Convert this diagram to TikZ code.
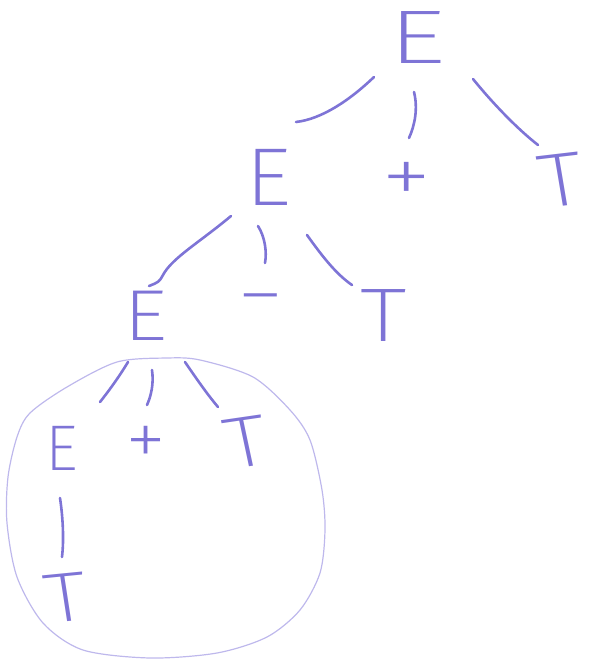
\documentclass[tikz,border=0pt]{standalone}
\usepackage{fontspec}
\newcommand\trythinfont[2]{\IfFontExistsTF{#1}{\setmainfont{#1}}{#2}}
\trythinfont{Fira Sans ExtraLight}{%
 \trythinfont{DejaVu Sans ExtraLight}{%
  \trythinfont{Fira Sans Thin}{%
   \trythinfont{Fira Sans Light}{%
    \trythinfont{Lato Light}{%
     \trythinfont{Open Sans Light}{\setmainfont{Liberation Sans}}}}}}}
\usetikzlibrary{calc}
\definecolor{ink}{RGB}{126,116,214}
\definecolor{ring}{RGB}{190,184,236}
\begin{document}
\begin{tikzpicture}[x=1pt,y=-1pt,
  sym/.style={text=ink, inner sep=0pt, font=\fontsize{76}{80}\selectfont},
  edge/.style={draw=ink, line width=2.6pt, line cap=round}]
\useasboundingbox (0,0) rectangle (592,662);
% symbols
\node[sym, xscale=1.5] (e1) at (417,38) {E};
\node[sym, xscale=1.35, yscale=1.1] (p1) at (407,183) {+};
\node[sym, xscale=1.2, rotate=8] (t1) at (561,180) {T};
\node[sym, xscale=1.2, yscale=1.08] (e2) at (268,177) {E};
\node[sym, anchor=base, xscale=1.25] (m2) at (261,320) {−};
\node[sym, xscale=1.25] (t2) at (384,316) {T};
\node[sym, xscale=1.15, yscale=0.95] (e3) at (146,316) {E};
\node[sym, xscale=1.1, yscale=1.05] (p3) at (146,446) {+};
\node[sym, xscale=1.15, yscale=0.95, rotate=10] (t3) at (246,442) {T};
\node[sym, scale=0.85] (e4) at (62,448) {E};
\node[sym, xscale=1.15, yscale=0.92, rotate=7] (t4) at (66,598) {T};
% connectors
\draw[edge] ($(e1)+(-43,39)$) .. controls ($(e1)+(-67,62)$) and ($(e1)+(-95,81)$) .. ($(e2)+(28,-55)$);
\draw[edge] ($(e1)+(-3,54)$) .. controls ($(e1)+(1,70)$) and ($(e1)+(-2,87)$) .. ($(p1)+(2,-45)$);
\draw[edge] ($(e1)+(56,41)$) .. controls ($(e1)+(73,62)$) and ($(e1)+(98,89)$) .. ($(t1)+(-23,-35)$);
\draw[edge] ($(e2)+(-37,39)$) .. controls ($(e2)+(-68,65)$) and ($(e2)+(-96,81)$) .. ($(e3)+(17,-41)$) .. controls ($(e3)+(13,-34)$) .. ($(e3)+(3,-30)$);
\draw[edge] ($(e2)+(-10,49)$) .. controls ($(e2)+(-3,60)$) and ($(e2)+(-1,75)$) .. ($(m2.base)+(4,-57)$);
\draw[edge] ($(e2)+(39,58)$) .. controls ($(e2)+(54,79)$) and ($(e2)+(68,97)$) .. ($(t2)+(-32,-31)$);
\draw[edge] ($(e3)+(-18,46)$) .. controls ($(e3)+(-27,61)$) and ($(e3)+(-38,76)$) .. ($(e4)+(38,-46)$);
\draw[edge] ($(e3)+(6,54)$) .. controls ($(e3)+(8,68)$) and ($(e3)+(5,80)$) .. ($(p3)+(1,-41)$);
\draw[edge] ($(e3)+(39,46)$) .. controls ($(e3)+(50,62)$) and ($(e3)+(61,78)$) .. ($(t3)+(-28,-35)$);
\draw[edge] ($(e4)+(-2,50)$) .. controls ($(e4)+(1,70)$) and ($(e4)+(2,92)$) .. ($(t4)+(-4,-41)$);
% ring round the lower subtree
\draw[ring, line width=1.2pt] plot[smooth cycle] coordinates {(167,358) (200,360) (253,377) (290,410) (310,440) (322,490) (325,530) (320,573) (300,610) (267,637) (217,653) (150,658) (83,650) (43,623) (17,577) (7,523) (8,477) (17,437) (30,413) (67,387) (117,362)};
\end{tikzpicture}
\end{document}
